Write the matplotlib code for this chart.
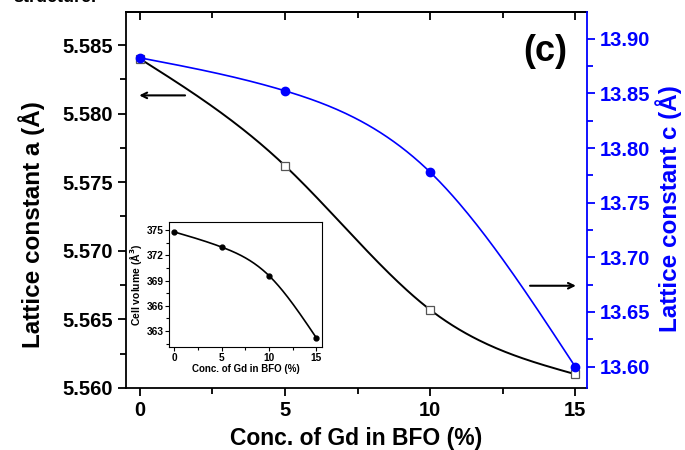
import numpy as np
import matplotlib
matplotlib.use("Agg")
from matplotlib import pyplot as plt
from matplotlib.ticker import MultipleLocator, FormatStrFormatter, NullFormatter

plt.rcParams["font.family"] = ["Liberation Sans", "DejaVu Sans"]
plt.rcParams["font.weight"] = "bold"

gd_conc = [0, 5, 10, 15]
lattice_a = [5.5840, 5.5762, 5.5657, 5.5610]
lattice_c = [13.8826, 13.8524, 13.7780, 13.6000]
cell_volume = [374.8, 373.0, 369.6, 362.2]


def natural_spline(x, y, n=200):
    # smooth line through the points, like the Origin spline connector
    x = np.asarray(x, float)
    y = np.asarray(y, float)
    k = len(x)
    h = np.diff(x)
    A = np.zeros((k, k))
    b = np.zeros(k)
    A[0, 0] = A[-1, -1] = 1
    for i in range(1, k - 1):
        A[i, i - 1] = h[i - 1]
        A[i, i] = 2 * (h[i - 1] + h[i])
        A[i, i + 1] = h[i]
        b[i] = 6 * ((y[i + 1] - y[i]) / h[i] - (y[i] - y[i - 1]) / h[i - 1])
    M = np.linalg.solve(A, b)
    xs = np.linspace(x[0], x[-1], n)
    idx = np.clip(np.searchsorted(x, xs) - 1, 0, k - 2)
    x0, x1 = x[idx], x[idx + 1]
    hh = x1 - x0
    t0, t1 = x1 - xs, xs - x0
    ys = (M[idx] * t0**3 + M[idx + 1] * t1**3) / (6 * hh) \
        + (y[idx] / hh - M[idx] * hh / 6) * t0 \
        + (y[idx + 1] / hh - M[idx + 1] * hh / 6) * t1
    return xs, ys


fig = plt.figure(figsize=(6.85, 4.5), dpi=100)
ax = fig.add_axes([0.184, 0.138, 0.673, 0.835])
ax2 = ax.twinx()

xs, ys = natural_spline(gd_conc, lattice_a)
ax.plot(xs, ys, color="black", lw=1.4)
ax.plot(gd_conc, lattice_a, ls="none", marker="s", ms=6, mfc="white", mec="#555555", mew=0.9)

xs, ys = natural_spline(gd_conc, lattice_c)
ax2.plot(xs, ys, color="blue", lw=1.2)
ax2.plot(gd_conc, lattice_c, ls="none", marker="o", ms=6, color="blue")

ax.set_xlim(-0.48, 15.41)
ax.set_ylim(5.560, 5.5874)
ax2.set_ylim(13.5805, 13.9244)

ax.xaxis.set_major_locator(MultipleLocator(5))
ax.xaxis.set_minor_locator(MultipleLocator(2.5))
ax.yaxis.set_major_locator(MultipleLocator(0.005))
ax.yaxis.set_minor_locator(MultipleLocator(0.0025))
ax2.yaxis.set_major_locator(MultipleLocator(0.05))
ax2.yaxis.set_minor_locator(MultipleLocator(0.025))
ax.yaxis.set_major_formatter(FormatStrFormatter("%.3f"))
ax2.yaxis.set_major_formatter(FormatStrFormatter("%.2f"))

ax.tick_params(axis="x", which="both", direction="out", top=False, labelsize=14.5, width=1.3)
ax.tick_params(axis="x", which="major", length=6)
ax.tick_params(axis="x", which="minor", length=4)
ax.tick_params(axis="y", which="both", direction="out", right=False, labelsize=14.5, width=1.3)
ax.tick_params(axis="y", which="major", length=6)
ax.tick_params(axis="y", which="minor", length=4)
ax2.tick_params(axis="y", which="both", direction="out", colors="blue", labelsize=14.5, width=1.3)
ax2.tick_params(axis="y", which="major", length=6)
ax2.tick_params(axis="y", which="minor", length=4)

# top axis: inward ticks, no labels
top = ax.secondary_xaxis("top")
top.xaxis.set_major_locator(MultipleLocator(5))
top.xaxis.set_minor_locator(MultipleLocator(2.5))
top.xaxis.set_major_formatter(NullFormatter())
top.tick_params(which="both", direction="in", width=1.3)
top.tick_params(which="major", length=6)
top.tick_params(which="minor", length=4)
top.spines["top"].set_linewidth(1.3)

for s in ["left", "bottom", "top"]:
    ax.spines[s].set_linewidth(1.3)
ax.spines["right"].set_visible(False)
ax2.spines["left"].set_visible(False)
ax2.spines["top"].set_visible(False)
ax2.spines["bottom"].set_visible(False)
ax2.spines["right"].set_color("blue")
ax2.spines["right"].set_linewidth(1.3)

ax.set_xlabel("Conc. of Gd in BFO (%)", fontsize=16.5, fontweight="bold", labelpad=5)
ax.set_ylabel("Lattice constant a (Å)", fontsize=17.5, fontweight="bold")
ax.yaxis.set_label_coords(-0.176, 0.436)
ax2.set_ylabel("Lattice constant c (Å)", fontsize=17.5, fontweight="bold", color="blue")
ax2.yaxis.set_label_coords(1.148, 0.476)

ax.annotate("", xy=(-0.12, 5.58133), xytext=(1.65, 5.58133),
            arrowprops=dict(arrowstyle="->", color="black", lw=1.5))
ax2.annotate("", xy=(15.12, 13.674), xytext=(13.35, 13.674),
             arrowprops=dict(arrowstyle="->", color="black", lw=1.5))
ax.text(13.97, 5.58454, "(c)", fontsize=26, fontweight="bold", ha="center", va="center")

fig.text(0.02, 1.005, "structure.", fontsize=13, va="center")

# inset with cell volume
ins = fig.add_axes([0.247, 0.229, 0.223, 0.278])
xs, ys = natural_spline(gd_conc, cell_volume)
ins.plot(xs, ys, color="black", lw=1.2)
ins.plot(gd_conc, cell_volume, ls="none", marker="o", ms=3.5, color="black")
ins.set_xlim(-0.53, 15.6)
ins.set_ylim(361.1, 376.0)
ins.xaxis.set_major_locator(MultipleLocator(5))
ins.xaxis.set_minor_locator(MultipleLocator(2.5))
ins.yaxis.set_major_locator(MultipleLocator(3))
ins.yaxis.set_minor_locator(MultipleLocator(1.5))
ins.tick_params(which="both", direction="out", labelsize=7.3, width=0.8, pad=1)
ins.tick_params(which="major", length=3)
ins.tick_params(which="minor", length=2)
for s in ins.spines.values():
    s.set_linewidth(0.8)
ins.set_xlabel("Conc. of Gd in BFO (%)", fontsize=7, fontweight="bold", labelpad=1)
ins.set_ylabel("Cell volume (Å$^3$)", fontsize=7.5, fontweight="bold", labelpad=2)

fig.savefig("out.png", dpi=100)
